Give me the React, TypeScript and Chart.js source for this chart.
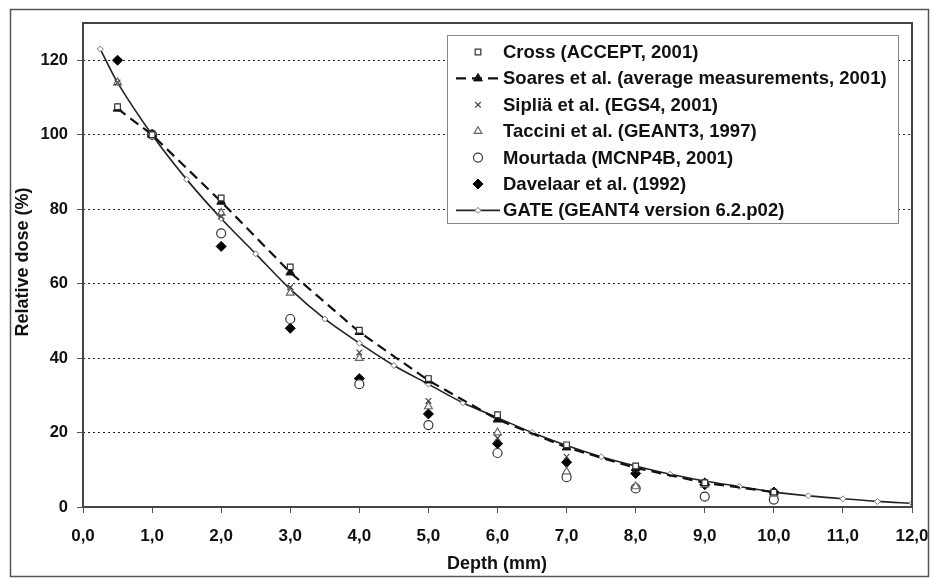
import React, { useEffect, useRef } from "react";
import { Chart, registerables } from "chart.js";
import { drawPoint } from "chart.js/helpers";
Chart.register(...registerables);

// ---- data ----
const measuredDepths = [0.5, 1, 2, 3, 4, 5, 6, 7, 8, 9, 10];
const crossDose = [107.5, 100, 83, 64.5, 47.5, 34.5, 24.8, 16.7, 11, 6.5, 4];
const soaresDose = [107, 100, 82, 63, 47, 34, 23.5, 16, 10.5, 6.5, 4];
const sipliaDose = [114, 100, 78, 59, 41.5, 28.5, 18.5, 13.5, 10, 6.5, 4];
const tacciniDose = [114, 100, 79, 57.5, 40, 27, 20, 9.5, 5.5, 6, 3.5];
const mourtadaDepths = [1, 2, 3, 4, 5, 6, 7, 8, 9, 10];
const mourtadaDose = [100, 73.5, 50.5, 33, 22, 14.5, 8, 5, 2.8, 2];
const davelaarDose = [120, 100, 70, 48, 34.5, 25, 17, 12, 9, 6, 4];
const gateDepths = [0.25, 0.5, 1, 1.5, 2, 2.5, 3, 3.5, 4, 4.5, 5, 5.5, 6, 6.5, 7, 7.5, 8, 8.5, 9, 9.5, 10, 10.5, 11, 11.5, 12];
const gateDose = [123, 114, 100, 88, 77.5, 68, 58.5, 50.5, 44, 38, 33, 28, 24, 20, 16.5, 13.5, 11, 8.8, 7, 5.5, 4, 3, 2.2, 1.5, 1];

const seriesLabels = [
  "Cross (ACCEPT, 2001)",
  "Soares et al. (average measurements, 2001)",
  "Sipliä et al. (EGS4, 2001)",
  "Taccini et al. (GEANT3, 1997)",
  "Mourtada (MCNP4B, 2001)",
  "Davelaar et al. (1992)",
  "GATE (GEANT4 version 6.2.p02)",
];
const xTickValues = [0, 1, 2, 3, 4, 5, 6, 7, 8, 9, 10, 11, 12];
const yTickValues = [0, 20, 40, 60, 80, 100, 120];

const FONT = "'Liberation Sans', Arial, sans-serif";

const zip = (xs: number[], ys: number[]) => xs.map((x, i) => ({ x, y: ys[i] }));

const framePlugin = {
  id: "frame",
  afterDraw(chart: any) {
    const { ctx, chartArea } = chart;
    ctx.save();
    // outer frame
    ctx.strokeStyle = "#555";
    ctx.lineWidth = 1.5;
    ctx.strokeRect(10.5, 9.5, 918, 567);
    // plot border
    ctx.strokeStyle = "#444";
    ctx.lineWidth = 2;
    ctx.strokeRect(chartArea.left, chartArea.top, chartArea.right - chartArea.left, chartArea.bottom - chartArea.top);
    // axis titles
    ctx.fillStyle = "#111";
    ctx.font = `bold 18px ${FONT}`;
    ctx.textAlign = "center";
    ctx.textBaseline = "middle";
    ctx.fillText("Depth (mm)", 497, 564);
    ctx.translate(23, 262);
    ctx.rotate(-Math.PI / 2);
    ctx.fillText("Relative dose (%)", 0, 0);
    ctx.restore();

    // legend
    const lx = 447, ly = 35, lw = 451, lh = 188;
    ctx.save();
    ctx.fillStyle = "#fff";
    ctx.fillRect(lx, ly, lw, lh);
    ctx.strokeStyle = "#888";
    ctx.lineWidth = 1;
    ctx.strokeRect(lx + 0.5, ly + 0.5, lw, lh);
    ctx.font = `bold 18.5px ${FONT}`;
    ctx.textAlign = "left";
    ctx.textBaseline = "middle";
    chart.data.datasets.forEach((ds: any, i: number) => {
      const y = 52 + i * 26.4;
      if (ds.showLine) {
        ctx.save();
        ctx.strokeStyle = ds.borderColor;
        ctx.lineWidth = ds.borderWidth;
        ctx.setLineDash(ds.borderDash || []);
        ctx.beginPath();
        ctx.moveTo(456, y);
        ctx.lineTo(500, y);
        ctx.stroke();
        ctx.restore();
      }
      ctx.save();
      ctx.fillStyle = ds.pointBackgroundColor;
      ctx.strokeStyle = ds.pointBorderColor;
      ctx.lineWidth = ds.pointBorderWidth;
      drawPoint(ctx, { pointStyle: ds.pointStyle, radius: ds.pointRadius, borderWidth: ds.pointBorderWidth, rotation: 0 }, 478, y);
      ctx.restore();
      ctx.fillStyle = "#111";
      ctx.fillText(ds.label, 503, y + 1);
    });
    ctx.restore();
  },
};

export default function App() {
  const ref = useRef<HTMLCanvasElement>(null);
  useEffect(() => {
    if (!ref.current) return;
    Chart.defaults.font.family = FONT;
    const chart = new Chart(ref.current, {
      type: "scatter",
      data: {
        datasets: [
          {
            label: seriesLabels[0],
            data: zip(measuredDepths, crossDose),
            showLine: false,
            pointStyle: "rect",
            pointRadius: 4,
            pointBorderWidth: 1.2,
            pointBackgroundColor: "#fff",
            pointBorderColor: "#333",
            borderColor: "#333",
          },
          {
            label: seriesLabels[1],
            data: zip(measuredDepths, soaresDose),
            showLine: true,
            borderColor: "#111",
            borderWidth: 2.2,
            borderDash: [10, 6],
            pointStyle: "triangle",
            pointRadius: 5,
            pointBorderWidth: 1,
            pointBackgroundColor: "#111",
            pointBorderColor: "#111",
          },
          {
            label: seriesLabels[2],
            data: zip(measuredDepths, sipliaDose),
            showLine: false,
            pointStyle: "crossRot",
            pointRadius: 4,
            pointBorderWidth: 1.2,
            pointBackgroundColor: "#fff",
            pointBorderColor: "#444",
            borderColor: "#444",
          },
          {
            label: seriesLabels[3],
            data: zip(measuredDepths, tacciniDose),
            showLine: false,
            pointStyle: "triangle",
            pointRadius: 4.5,
            pointBorderWidth: 1.2,
            pointBackgroundColor: "#fff",
            pointBorderColor: "#666",
            borderColor: "#666",
          },
          {
            label: seriesLabels[4],
            data: zip(mourtadaDepths, mourtadaDose),
            showLine: false,
            pointStyle: "circle",
            pointRadius: 4.5,
            pointBorderWidth: 1.2,
            pointBackgroundColor: "#fff",
            pointBorderColor: "#333",
            borderColor: "#333",
          },
          {
            label: seriesLabels[5],
            data: zip(measuredDepths, davelaarDose),
            showLine: false,
            pointStyle: "rectRot",
            pointRadius: 5,
            pointBorderWidth: 1,
            pointBackgroundColor: "#000",
            pointBorderColor: "#000",
            borderColor: "#000",
          },
          {
            label: seriesLabels[6],
            data: zip(gateDepths, gateDose),
            showLine: true,
            borderColor: "#222",
            borderWidth: 1.6,
            tension: 0.3,
            pointStyle: "rectRot",
            pointRadius: 3,
            pointBorderWidth: 1,
            pointBackgroundColor: "#fff",
            pointBorderColor: "#777",
          },
        ],
      },
      options: {
        animation: false,
        responsive: false,
        layout: { padding: { left: 0, right: 22, top: 23, bottom: 0 } },
        plugins: { legend: { display: false }, tooltip: { enabled: false } },
        scales: {
          x: {
            type: "linear",
            min: 0,
            max: 12,
            afterFit: (s: any) => { s.height = 71; s.paddingLeft = 0; s.paddingRight = 0; },
            afterBuildTicks: (s: any) => { s.ticks = xTickValues.map((v) => ({ value: v })); },
            grid: { drawOnChartArea: false, drawTicks: true, tickLength: 6, color: "#555" },
            border: { display: false },
            ticks: {
              autoSkip: false,
              maxRotation: 0,
              padding: 13,
              color: "#111",
              font: { size: 17, weight: "bold", family: FONT },
              callback: (v: any) => Number(v).toFixed(1).replace(".", ","),
            },
          },
          y: {
            type: "linear",
            min: 0,
            max: 130,
            afterFit: (s: any) => { s.width = 83; s.paddingTop = 0; s.paddingBottom = 0; },
            afterBuildTicks: (s: any) => { s.ticks = yTickValues.map((v) => ({ value: v })); },
            grid: { color: "#222", lineWidth: 1, drawTicks: true, tickLength: 6, tickColor: "#555" } as any,
            border: { display: false, dash: [2, 3] },
            ticks: {
              padding: 9,
              color: "#111",
              font: { size: 16.5, weight: "bold", family: FONT },
            },
          },
        },
      },
      plugins: [framePlugin],
    } as any);
    return () => chart.destroy();
  }, []);
  return (
    <div style={{ position: "absolute", left: 0, top: 0, width: 934, height: 578, background: "#fff" }}>
      <canvas ref={ref} width={934} height={578} style={{ display: "block" }} />
    </div>
  );
}
